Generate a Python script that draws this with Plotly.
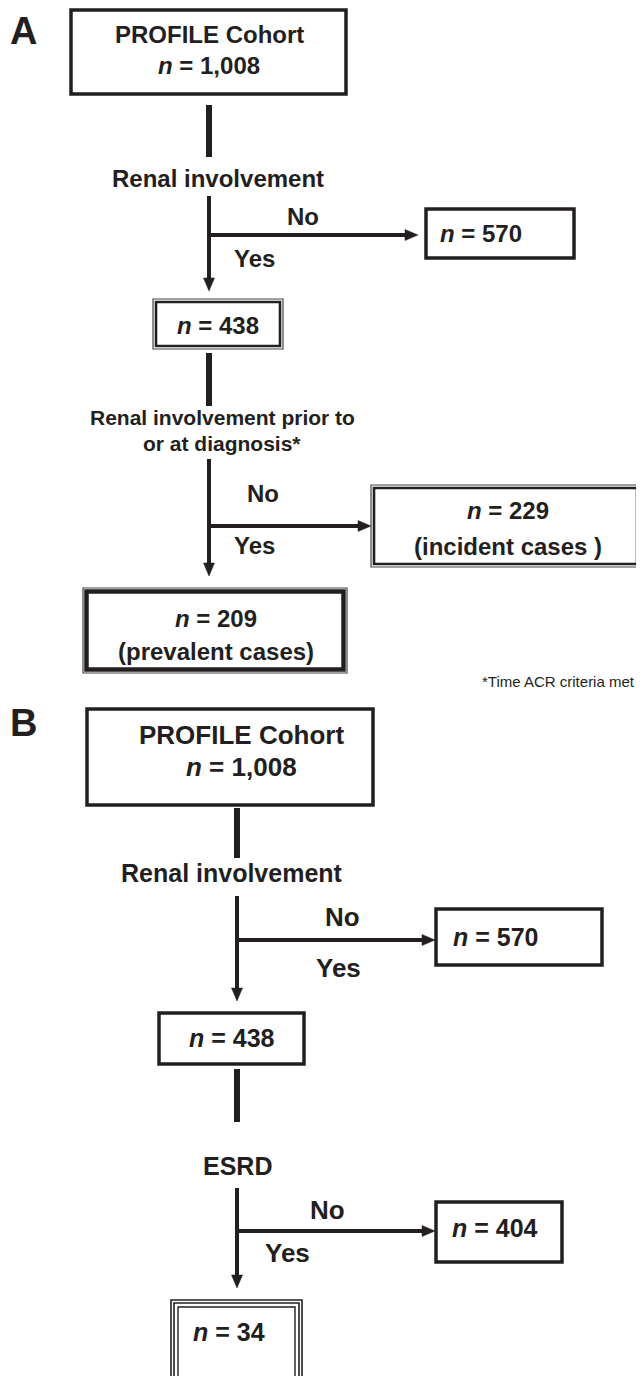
import plotly.graph_objects as go

# ---------------- data ----------------
panel_labels = ["A", "B"]
cohort_name = "PROFILE Cohort"
counts_A = [1008, 570, 438, 229, 209]
counts_B = [1008, 570, 438, 404, 34]
criteria_A = ["Renal involvement", "Renal involvement prior to", "or at diagnosis*"]
criteria_B = ["Renal involvement", "ESRD"]
branch_labels = ["No", "Yes"]
case_labels_A = ["(incident cases )", "(prevalent cases)"]
footnote = "*Time ACR criteria met"

# ---------------- style ----------------
INK = "#231f20"
FONT = "Liberation Sans, Arial, Helvetica, sans-serif"
W, H = 644, 1376
PAGE_OFFSET = 8  # default body margin of the html page

shapes = []
annotations = []


def ncount(n):
    return f"<i>n</i> = {n:,}"


def text(x, y, s, size, bold=True, xanchor="center"):
    annotations.append(dict(
        x=x, y=y, xref="x", yref="y", text=(f"<b>{s}</b>" if bold else s),
        showarrow=False, xanchor=xanchor, yanchor="middle",
        font=dict(family=FONT, size=size, color=INK)))


def rect(x0, y0, x1, y1, lw, color=INK):
    shapes.append(dict(type="rect", xref="x", yref="y", x0=x0, y0=y0, x1=x1, y1=y1,
                       line=dict(color=color, width=lw), fillcolor="rgba(0,0,0,0)"))


def line(x0, y0, x1, y1, lw):
    shapes.append(dict(type="line", xref="x", yref="y", x0=x0, y0=y0, x1=x1, y1=y1,
                       line=dict(color=INK, width=lw)))


def arrow(x0, y0, x1, y1, lw=4, head_len=13, head_w=11):
    if x0 == x1:  # vertical (downward)
        line(x0, y0, x1, y1 - head_len + 1, lw)
        p = f"M {x1 - head_w/2},{y1 - head_len} L {x1 + head_w/2},{y1 - head_len} L {x1},{y1} Z"
    else:  # horizontal (rightward)
        line(x0, y0, x1 - head_len + 1, y1, lw)
        p = f"M {x1 - head_len},{y1 - head_w/2} L {x1 - head_len},{y1 + head_w/2} L {x1},{y1} Z"
    shapes.append(dict(type="path", xref="x", yref="y", path=p,
                       fillcolor=INK, line=dict(color=INK, width=0.5)))


def double_box(x0, y0, x1, y1, thick=2.6, gap=3):
    rect(x0, y0, x1, y1, 1.2, "#444444")
    rect(x0 + gap, y0 + gap, x1 - gap, y1 - gap, thick)


def triple_box(x0, y0, x1, y1):
    rect(x0, y0, x1, y1, 1.6)
    rect(x0 + 3, y0 + 3, x1 - 3, y1 - 3, 1.6)
    rect(x0 + 7, y0 + 7, x1 - 7, y1 - 7, 1.4)


# ================= Panel A =================
text(23, 31, panel_labels[0], 38)
rect(71, 10, 346, 94, 3.5)
text(209, 34, cohort_name, 24)
text(209, 65, ncount(counts_A[0]), 24)

line(209, 105, 209, 157, 6)
text(218, 178, criteria_A[0], 24)

arrow(209, 196, 209, 291)
arrow(209, 235, 418, 235)
text(303, 216, branch_labels[0], 24)
text(254, 258, branch_labels[1], 24)

rect(426, 209, 574, 258, 3.5)
text(481, 233, ncount(counts_A[1]), 24)

double_box(153, 299, 283, 349)
text(218, 325, ncount(counts_A[2]), 24)

line(209, 353, 209, 406, 6)
text(222, 417, criteria_A[1], 21)
text(222, 443, criteria_A[2], 21)

arrow(209, 459, 209, 576)
arrow(209, 526, 371, 526)
text(263, 493, branch_labels[0], 24)
text(254, 545, branch_labels[1], 24)

double_box(371, 485, 640, 567)
text(508, 510, ncount(counts_A[3]), 24)
text(508, 546, case_labels_A[0], 24)

double_box(83, 588, 347, 673, thick=4.5, gap=3.5)
text(216, 618, ncount(counts_A[4]), 24)
text(216, 651, case_labels_A[1], 24)

text(637, 681, footnote, 15, bold=False, xanchor="right")

# ================= Panel B =================
text(23, 723, panel_labels[1], 38)
rect(87, 709, 373, 805, 3.5)
text(241, 735, cohort_name, 26)
text(241, 767, ncount(counts_B[0]), 26)

line(237, 808, 237, 858, 6)
text(232, 873, criteria_B[0], 25)

arrow(237, 896, 237, 1001)
arrow(237, 940, 435, 940)
text(342, 917, branch_labels[0], 26)
text(338, 968, branch_labels[1], 26)

rect(436, 909, 602, 965, 3.5)
text(495, 937, ncount(counts_B[1]), 25)

rect(159, 1013, 304, 1064, 3.5)
text(232, 1038, ncount(counts_B[2]), 25)

line(237, 1069, 237, 1122, 6)
text(237, 1166, criteria_B[1], 25)

arrow(237, 1188, 237, 1288)
arrow(237, 1231, 435, 1231)
text(327, 1210, branch_labels[0], 26)
text(287, 1253, branch_labels[1], 26)

rect(436, 1202, 562, 1262, 3.5)
text(495, 1228, ncount(counts_B[3]), 25)

triple_box(171, 1300, 302, 1420)
text(229, 1332, ncount(counts_B[4]), 25)

fig = go.Figure()
fig.update_layout(
    width=W - PAGE_OFFSET, height=H - PAGE_OFFSET,
    margin=dict(l=0, r=0, t=0, b=0),
    paper_bgcolor="white", plot_bgcolor="white",
    xaxis=dict(range=[PAGE_OFFSET, W], visible=False, fixedrange=True),
    yaxis=dict(range=[H, PAGE_OFFSET], visible=False, fixedrange=True),
    shapes=shapes, annotations=annotations, showlegend=False,
)
fig.write_html("out.html")
